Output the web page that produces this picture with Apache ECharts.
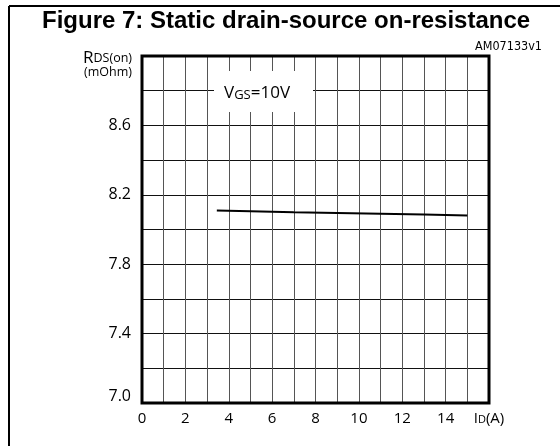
<!DOCTYPE html>
<html>
<head>
<meta charset="utf-8">
<script src="https://cdn.jsdelivr.net/npm/echarts@6/dist/echarts.min.js"></script>
<style>
  html, body { margin: 0; padding: 0; background: #fff; }
  #main { width: 560px; height: 446px; }
</style>
</head>
<body>
<div id="main"></div>
<script>
// drain current (A) vs on-resistance (mOhm), VGS = 10V
var idAmps = [3.45, 5, 7, 9, 11, 13, 15];
var rdsOn = [8.11, 8.105, 8.099, 8.095, 8.091, 8.087, 8.081];
var xTickLabels = ['0', '2', '4', '6', '8', '10', '12', '14'];
var yTickLabels = ['7.0', '7.4', '7.8', '8.2', '8.6'];

var font = 'Open Sans';
var chart = echarts.init(document.getElementById('main'));

var points = idAmps.map(function (x, i) { return [x, rdsOn[i]]; });

chart.setOption({
  backgroundColor: '#fff',
  animation: false,
  grid: { left: 142, top: 56, width: 347, height: 347 },
  xAxis: {
    type: 'value', min: 0, max: 16, interval: 1,
    axisLine: { show: false },
    axisTick: { show: false },
    splitLine: { show: true, lineStyle: { color: '#555', width: 1 } },
    axisLabel: {
      margin: 8,
      fontFamily: font, fontSize: 15, color: '#000',
      formatter: function (v) {
        if (v === 16) return '{b|I}{s|D}{b|(A)}';
        var s = String(v);
        return xTickLabels.indexOf(s) >= 0 ? s : '';
      },
      rich: {
        b: { fontFamily: font, fontSize: 15, color: '#000' },
        s: { fontFamily: font, fontSize: 11, color: '#000', padding: [3, 0, 0, 0] }
      }
    }
  },
  yAxis: {
    type: 'value', min: 7, max: 9, interval: 0.2,
    axisLine: { show: false },
    axisTick: { show: false },
    splitLine: { show: true, lineStyle: { color: '#111', width: 1 } },
    axisLabel: {
      margin: 11,
      fontFamily: font, fontSize: 16, color: '#000',
      formatter: function (v) {
        var s = v.toFixed(1);
        if (s === '7.0') return '{up|7.0}';
        return yTickLabels.indexOf(s) >= 0 ? s : '';
      },
      rich: {
        up: { fontFamily: font, fontSize: 16, color: '#000', padding: [0, 0, 14, 0] }
      }
    }
  },
  series: [{
    type: 'line',
    data: points,
    showSymbol: false,
    smooth: false,
    lineStyle: { color: '#000', width: 2 },
    z: 5
  }],
  graphic: [
    // page frame
    { type: 'line', z: 100, shape: { x1: 9, y1: 6, x2: 560, y2: 6 }, style: { stroke: '#000', lineWidth: 2 } },
    { type: 'line', z: 100, shape: { x1: 9, y1: 6, x2: 9, y2: 446 }, style: { stroke: '#000', lineWidth: 2 } },
    // plot border
    { type: 'rect', z: 100, shape: { x: 142, y: 56, width: 347, height: 347 }, style: { fill: null, stroke: '#000', lineWidth: 3 } },
    {
      type: 'text', z: 100, left: 42, top: 9,
      style: { text: 'Figure 7: Static drain-source on-resistance', font: 'bold 24px "Liberation Sans", Arial, sans-serif', fill: '#000' }
    },
    {
      type: 'text', z: 100, right: 18, top: 40,
      style: { text: 'AM07133v1', font: '12.5px "DejaVu Sans Condensed", sans-serif', fill: '#000' }
    },
    // y axis name
    {
      type: 'text', z: 100, x: 132, y: 51,
      style: {
        text: '{r|R}{s|DS(on)}\n{s|(mOhm)}',
        align: 'right', verticalAlign: 'top',
        rich: {
          r: { fontFamily: font, fontSize: 17, color: '#000', lineHeight: 15 },
          s: { fontFamily: font, fontSize: 12.5, color: '#000', lineHeight: 13, align: 'right' }
        }
      }
    },
    // VGS label on a white box
    { type: 'rect', z: 100, shape: { x: 214, y: 71, width: 99, height: 41 }, style: { fill: '#fff' } },
    {
      type: 'text', z: 101, x: 224, y: 93,
      style: {
        text: '{b|V}{s|GS}{b|=10V}',
        verticalAlign: 'middle',
        rich: {
          b: { fontFamily: font, fontSize: 17, color: '#000' },
          s: { fontFamily: font, fontSize: 13, color: '#000', padding: [4, 0, 0, 0] }
        }
      }
    }
  ]
});
</script>
</body>
</html>
